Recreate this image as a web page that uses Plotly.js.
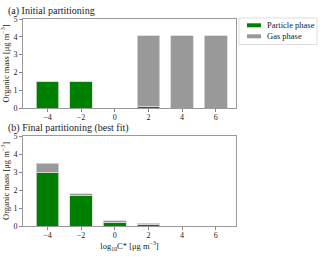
<!DOCTYPE html>
<html><head><meta charset="utf-8">
<script src="https://cdn.plot.ly/plotly-3.0.1.min.js"></script>
<style>html,body{margin:0;padding:0;background:#fff}#c{width:320px;height:257px}</style>
</head><body><div id="c"></div>
<script>
const logC = [-4, -2, 0, 2, 4, 6];
const initParticle = [1.5, 1.5, 0, 0.1, 0, 0];
const initGas = [0, 0, 0, 3.95, 4.05, 4.05];
const finalParticle = [3.0, 1.72, 0.21, 0.1, 0, 0];
const finalGas = [0.48, 0.07, 0.07, 0.05, 0, 0];
const yTicks = [0, 1, 2, 3, 4, 5];
const seriesNames = ['Particle phase', 'Gas phase'];

const green = '#008000', gray = '#999999', edge = '#d8d8d8';
const F = 'Liberation Serif, Times New Roman, serif';
// plot area in pixels: x 23..236, y 19..226
const L = 23, R = 84, T = 19, B = 31, W = 320 - L - R, H = 257 - T - B;
const px = v => (v - L) / W;
const py = v => (257 - B - v) / H;

function bar(y, name, color, xa, ya) {
  return {type:'bar', x:logC, y:y, name:name, xaxis:xa, yaxis:ya, width:1.35,
    showlegend:false, marker:{color:color, line:{color:edge, width:0.8}}};
}
const data = [
  bar(initParticle, seriesNames[0], green, 'x', 'y'),
  bar(initGas, seriesNames[1], gray, 'x', 'y'),
  bar(finalParticle, seriesNames[0], green, 'x2', 'y2'),
  bar(finalGas, seriesNames[1], gray, 'x2', 'y2')
];
const xcommon = {range:[-5.45, 7.2], tickvals:logC, ticks:'outside', ticklen:3, tickcolor:'#888',
  showline:true, linecolor:'#999', linewidth:1, mirror:true, showgrid:false, zeroline:false,
  ticklabelstandoff:-2, tickfont:{family:F, size:8, color:'#222'}};
const ycommon = {range:[0, 5], tickvals:yTicks, ticks:'outside', ticklen:3, tickcolor:'#888',
  showline:true, linecolor:'#999', linewidth:1, mirror:true, showgrid:false, zeroline:false,
  tickfont:{family:F, size:8, color:'#222'},
  title:{text:'Organic mass [μg m<sup>−3</sup>]', font:{family:F, size:8.5, color:'#222'}, standoff:4}};
const tf = {family:F, size:8.5, color:'#222'};
const hf = {family:F, size:10, color:'#222'};
const layout = {
  width:320, height:257, margin:{l:L, r:R, t:T, b:B},
  paper_bgcolor:'#fff', plot_bgcolor:'#fff', barmode:'stack', bargap:0,
  font:{family:F, color:'#222'}, showlegend:false,
  xaxis:Object.assign({}, xcommon, {anchor:'y'}),
  yaxis:Object.assign({}, ycommon, {domain:[py(108), 1], anchor:'x'}),
  xaxis2:Object.assign({}, xcommon, {anchor:'y2', title:{text:'log<sub>10</sub>C* [μg m<sup>−3</sup>]', font:tf, standoff:4}}),
  yaxis2:Object.assign({}, ycommon, {domain:[0, py(136)], anchor:'x2'}),
  shapes:[
    {type:'rect', xref:'paper', yref:'paper', x0:px(239), x1:px(317), y0:py(18), y1:py(44.5), line:{color:'#ddd', width:1}, fillcolor:'#fff'},
    {type:'rect', xref:'paper', yref:'paper', x0:px(247), x1:px(261), y0:py(23.3), y1:py(27.3), line:{width:0}, fillcolor:green},
    {type:'rect', xref:'paper', yref:'paper', x0:px(247), x1:px(261), y0:py(34.3), y1:py(38.3), line:{width:0}, fillcolor:gray}
  ],
  annotations:[
    {text:'(a) Initial partitioning', xref:'paper', yref:'paper', x:px(6), y:py(11), xanchor:'left', yanchor:'middle', showarrow:false, font:hf},
    {text:'(b) Final partitioning (best fit)', xref:'paper', yref:'paper', x:px(6), y:py(128), xanchor:'left', yanchor:'middle', showarrow:false, font:hf},
    {text:seriesNames[0], xref:'paper', yref:'paper', x:px(265), y:py(25.3), xanchor:'left', yanchor:'middle', showarrow:false, font:tf},
    {text:seriesNames[1], xref:'paper', yref:'paper', x:px(265), y:py(36.3), xanchor:'left', yanchor:'middle', showarrow:false, font:tf}
  ]
};
Plotly.newPlot('c', data, layout, {displayModeBar:false, staticPlot:true});
</script></body></html>
